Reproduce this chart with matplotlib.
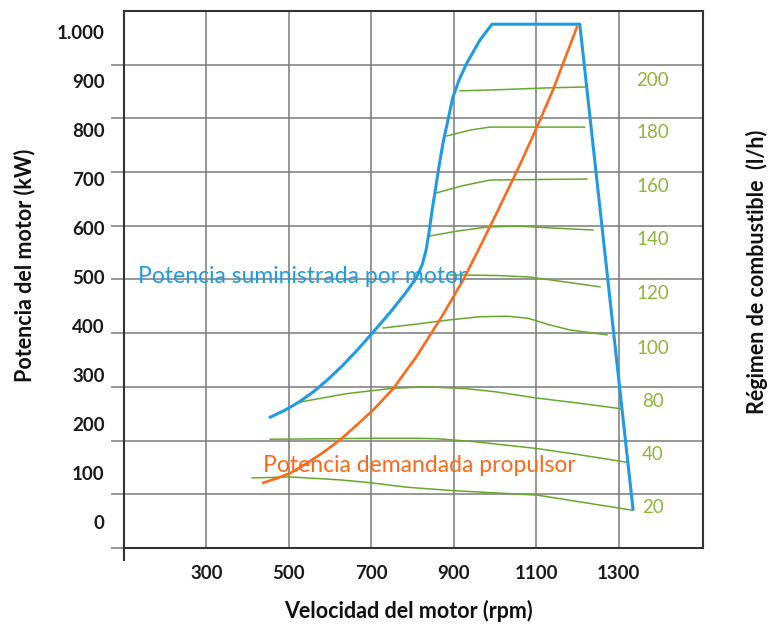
import matplotlib
matplotlib.use('Agg')
import matplotlib.pyplot as plt
import numpy as np

plt.rcParams['font.family'] = ['Lato', 'DejaVu Sans']

#%% data (rpm, kW)
blue_rpm = [455, 490, 525, 560, 595, 630, 665, 705, 746, 782, 800, 814, 824, 833, 840, 848, 856, 865, 874,
            886, 898, 913, 932, 964, 993, 1206, 1335]
blue_kw = [214, 228, 245, 266, 291, 319, 350, 388, 428, 466, 487, 506, 526, 555, 590, 638, 680, 729, 773,
           820, 867, 902, 937, 984, 1016, 1016, 27]

orange_rpm = [438, 470, 504, 540, 580, 625, 665, 705, 753, 810, 874, 923, 964, 1008, 1060, 1102, 1141, 1199]
orange_kw = [80, 89, 100, 118, 140, 168, 198, 229, 272, 338, 423, 494, 562, 637, 728, 806, 882, 1010]

# fuel consumption contours (l/h)
fuel_labels = ['200', '180', '160', '140', '120', '100', '80', '40', '20']
fuel_label_kw = [902, 794, 684, 576, 467, 355, 245, 137, 29]
fuel_rpm = [
    [915, 1000, 1126, 1223],
    [884, 940, 988, 1100, 1218],
    [855, 920, 988, 1100, 1223],
    [843, 910, 981, 1054, 1141, 1238],
    [891, 940, 1010, 1085, 1170, 1255],
    [729, 810, 884, 964, 1030, 1080, 1130, 1182, 1272],
    [528, 640, 753, 835, 932, 1000, 1102, 1200, 1308],
    [455, 600, 705, 802, 860, 950, 1102, 1200, 1320],
    [411, 504, 625, 700, 787, 900, 1102, 1335],
]
fuel_kw = [
    [880, 882, 886, 888],
    [788, 800, 806, 806, 806],
    [671, 686, 698, 699, 700],
    [584, 594, 602, 604, 600, 596],
    [504, 504, 503, 500, 490, 480],
    [396, 404, 412, 419, 420, 416, 403, 392, 382],
    [245, 262, 273, 276, 272, 266, 253, 243, 231],
    [169, 170, 171, 171, 170, 164, 150, 138, 122],
    [90, 92, 86, 80, 71, 64, 55, 24],
]

x_ticks = [300, 500, 700, 900, 1100, 1300]
y_ticks = [0, 100, 200, 300, 400, 500, 600, 700, 800, 900, 1000]
y_ticklabels = ['0', '100', '200', '300', '400', '500', '600', '700', '800', '900', '1.000']

#%% plot
blue = '#1f9be3'
orange = '#fb6a1a'
green_line = '#66a82e'
green_text = '#8db53a'
grid_c = '#7a7a7a'

fig = plt.figure(figsize=(7.69, 6.24), dpi=100)
ax = fig.add_axes([0.1612, 0.1218, 0.753, 0.8606])
ax.set_xlim(100, 1505)
ax.set_ylim(-53, 1043)

# grid (the printed grid does not sit on the value labels)
ax.set_xticks(x_ticks)
ax.set_xticks([100], minor=True)
ax.set_yticks(y_ticks)
ax.set_yticklabels(y_ticklabels)
ax.set_yticks(np.linspace(-53, 1043, 11)[:-1], minor=True)
ax.grid(which='major', axis='x', color=grid_c, lw=1.1)
ax.grid(which='minor', axis='y', color=grid_c, lw=1.1)
ax.set_axisbelow(True)
ax.tick_params(axis='y', which='major', length=0, pad=14, labelsize=13.5, labelcolor='#1a1a1a')
ax.tick_params(axis='y', which='minor', length=9.5, width=1.1, color=grid_c, direction='out')
ax.tick_params(axis='x', which='major', length=0, pad=12, labelsize=13.5, labelcolor='#1a1a1a')
ax.tick_params(axis='x', which='minor', length=9, width=1.5, color='#333333', direction='out')
for lab in ax.get_xticklabels() + ax.get_yticklabels():
    lab.set_fontweight('bold')
for s in ax.spines.values():
    s.set_color('#333333')
    s.set_linewidth(1.5)

for r, k in zip(fuel_rpm, fuel_kw):
    ax.plot(r, k, color=green_line, lw=1.1)
for lab, k in zip(fuel_labels, fuel_label_kw):
    ax.text(1383, k, lab, color=green_text, fontsize=13.5, ha='center', va='center')

ax.plot(blue_rpm, blue_kw, color=blue, lw=2.2, solid_joinstyle='round')
ax.plot(orange_rpm, orange_kw, color=orange, lw=1.9)

ax.text(135, 502, 'Potencia suministrada por motor', color=blue, fontsize=16.5,
        ha='left', va='center')
ax.text(438, 116, 'Potencia demandada propulsor', color=orange, fontsize=16.5,
        ha='left', va='center')

fig.text(408 / 769, 1 - 611 / 624, 'Velocidad del motor (rpm)', fontsize=15.5,
         ha='center', va='center', color='#111111', fontweight='bold')
fig.text(25 / 769, 1 - 265 / 624, 'Potencia del motor (kW)', fontsize=15.5,
         ha='center', va='center', rotation=90, color='#111111', fontweight='bold')
fig.text(757 / 769, 1 - 272 / 624, 'Régimen de combustible  (l/h)', fontsize=15.5,
         ha='center', va='center', rotation=90, color='#111111', fontweight='bold')

fig.savefig('out.png', dpi=100)
